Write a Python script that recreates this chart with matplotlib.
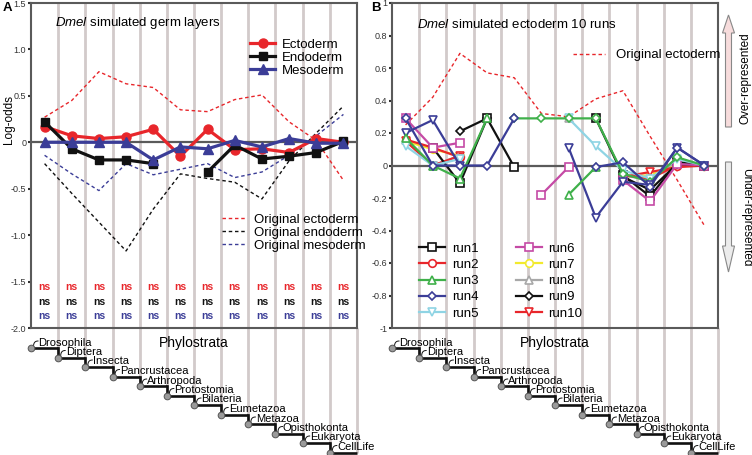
import numpy as np
import matplotlib
matplotlib.use('Agg')
import matplotlib.pyplot as plt
from matplotlib.patches import FancyArrow

plt.rcParams['font.family'] = ['Liberation Sans', 'DejaVu Sans']
plt.rcParams['axes.unicode_minus'] = False
plt.rcParams['mathtext.fontset'] = 'custom'
plt.rcParams['mathtext.it'] = 'Liberation Sans:italic'
plt.rcParams['mathtext.rm'] = 'Liberation Sans'

nan = np.nan
phylostrata = ['Drosophila', 'Diptera', 'Insecta', 'Pancrustacea', 'Arthropoda', 'Protostomia',
               'Bilateria', 'Eumetazoa', 'Metazoa', 'Opisthokonta', 'Eukaryota', 'CellLife']

# panel A: simulated germ layers
ectoderm = [0.17, 0.07, 0.04, 0.06, 0.14, -0.15, 0.14, -0.08, -0.07, -0.11, 0.04, 0.00]
endoderm = [0.22, -0.07, -0.19, -0.19, -0.23, nan, -0.32, -0.03, -0.18, -0.15, -0.11, 0.01]
mesoderm = [0.00, 0.00, 0.00, 0.00, -0.19, -0.05, -0.07, 0.02, -0.05, 0.04, -0.01, -0.01]
orig_ecto_a = [0.27, 0.45, 0.76, 0.63, 0.59, 0.35, 0.33, 0.46, 0.51, 0.22, 0.02, -0.41]
orig_endo_a = [-0.23, -0.55, -0.86, -1.17, -0.72, -0.34, -0.39, -0.43, -0.61, -0.20, 0.10, 0.39]
orig_meso_a = [-0.14, -0.34, -0.52, -0.23, -0.35, -0.29, -0.23, -0.38, -0.32, -0.14, 0.07, 0.30]

# panel B: ten simulated ectoderm runs
orig_ecto_b = [0.25, 0.42, 0.69, 0.57, 0.54, 0.32, 0.30, 0.41, 0.46, 0.18, -0.09, -0.37]
run1 = [nan, 0.11, -0.11, 0.29, -0.01, nan, nan, 0.29, -0.06, -0.19, 0.02, 0.00]
run2 = [0.16, 0.11, 0.05, nan, nan, nan, nan, nan, -0.06, -0.08, 0.00, 0.00]
run3 = [0.17, 0.00, -0.08, 0.29, nan, nan, -0.18, -0.01, nan, nan, nan, nan]
run3_b = [nan, nan, nan, nan, 0.29, 0.29, 0.29, 0.29, -0.05, -0.10, 0.05, 0.00]
run4 = [0.29, 0.00, 0.00, 0.00, 0.29, nan, nan, -0.01, 0.02, -0.13, 0.11, 0.00]
run4_b = [0.20, 0.28, 0.00, nan, nan, nan, 0.11, -0.32, -0.10, -0.12, 0.11, 0.00]
run5 = [0.12, 0.00, 0.04, nan, nan, nan, 0.29, 0.12, -0.03, -0.08, 0.04, 0.00]
run6 = [0.29, 0.11, 0.14, nan, nan, -0.18, -0.01, nan, -0.09, -0.22, 0.01, 0.00]
run7 = [0.15, 0.10, 0.06, nan, nan, nan, nan, nan, -0.07, -0.06, 0.01, 0.00]
run8 = [0.16, 0.00, 0.06, nan, nan, nan, 0.29, nan, -0.06, -0.09, 0.03, 0.00]
run9 = [nan, nan, 0.21, 0.29, nan, nan, nan, nan, -0.07, -0.15, 0.01, 0.00]
run10 = [0.15, 0.00, 0.06, nan, nan, nan, nan, nan, -0.07, -0.04, -0.01, 0.00]

RED = '#e8262b'
BLACK = '#111111'
BLUE = '#3b3d97'
GREEN = '#3fb04a'
CYAN = '#8fd4e4'
MAGENTA = '#c54aa5'
YELLOW = '#f2ea2e'
GRAY = '#a8a8a8'
GRID = '#d2caca'
SPINE = '#5a5a5a'

FW, FH = 752, 455
fig = plt.figure(figsize=(FW / 100, FH / 100), dpi=100)
TOP, BOT, W = 3, 328, 326


def px_axes(left):
    return fig.add_axes([left / FW, 1 - BOT / FH, W / FW, (BOT - TOP) / FH], zorder=2)


def setup(ax, ylim, ticks, labels):
    ax.set_xlim(0, len(phylostrata))
    ax.set_ylim(*ylim)
    ax.set_xticks([])
    ax.set_yticks(ticks)
    ax.set_yticklabels(labels)
    for s in ax.spines.values():
        s.set_color(SPINE)
        s.set_linewidth(1.5)
    ax.tick_params(axis='y', direction='out', length=2.5, width=1.5, color='#333333',
                   labelsize=6.5, pad=1, labelcolor='#333333')
    for xb in range(1, len(phylostrata)):
        ax.axvline(xb, color=GRID, lw=2.0, zorder=0)
    ax.axhline(0, color=SPINE, lw=1.6, zorder=1)


x = np.arange(len(phylostrata)) + 0.5

# ---------------- panel A
axA = px_axes(31)
setup(axA, (-2.0, 1.5), [1.5, 1.0, 0.5, 0, -0.5, -1.0, -1.5, -2.0],
      ['1.5', '1.0', '0.5', '0', '-0.5', '-1.0', '-1.5', '-2.0'])
dash = (0, (2.5, 2))
la, = axA.plot(x, orig_ecto_a, color=RED, lw=1.0, ls=dash, zorder=2)
lb, = axA.plot(x, orig_endo_a, color=BLACK, lw=1.0, ls=dash, zorder=2)
lc, = axA.plot(x, orig_meso_a, color=BLUE, lw=1.0, ls=dash, zorder=2)
h1, = axA.plot(x, ectoderm, '-o', color=RED, lw=2.3, ms=6.5, zorder=3)
h2, = axA.plot(x, endoderm, '-s', color=BLACK, lw=2.3, ms=5.5, zorder=4)
h3, = axA.plot(x, mesoderm, '-^', color=BLUE, lw=2.3, ms=6.5, zorder=5)
for yv, col in zip([-1.56, -1.72, -1.87], [RED, BLACK, BLUE]):
    for xc in x:
        axA.text(xc, yv, 'ns', color=col, ha='center', va='center', fontsize=7.5, fontweight='bold')

leg1 = axA.legend([h1, h2, h3], ['Ectoderm', 'Endoderm', 'Mesoderm'], loc='upper left',
                  bbox_to_anchor=(0.672, 0.89), frameon=False, borderpad=0, borderaxespad=0,
                  handlelength=1.9, handletextpad=0.5, labelspacing=0.05, fontsize=9.5)
axA.add_artist(leg1)
axA.legend([la, lb, lc], ['Original ectoderm', 'Original endoderm', 'Original mesoderm'],
           loc='upper left', bbox_to_anchor=(0.586, 0.352), frameon=False, borderpad=0,
           borderaxespad=0, handlelength=1.9, handletextpad=0.5, labelspacing=0.05, fontsize=9.5)
axA.text(0.074, 0.938, r'$\it{Dmel}$ simulated germ layers', transform=axA.transAxes,
         fontsize=9.5, va='center', ha='left')

# ---------------- panel B
axB = px_axes(392)
setup(axB, (-1, 1), [1, 0.8, 0.6, 0.4, 0.2, 0, -0.2, -0.4, -0.6, -0.8, -1],
      ['1', '0.8', '0.6', '0.4', '0.2', '0', '-0.2', '-0.4', '-0.6', '-0.8', '-1'])
lo, = axB.plot(x, orig_ecto_b, color=RED, lw=1.0, ls=dash, zorder=2)

runs = [('run1', run1, BLACK, 's'), ('run2', run2, RED, 'o'), ('run3', run3, GREEN, '^'),
        ('run4', run4, BLUE, 'D'), ('run5', run5, CYAN, 'v'), ('run6', run6, MAGENTA, 's'),
        ('run7', run7, YELLOW, 'o'), ('run8', run8, GRAY, '^'), ('run9', run9, BLACK, 'D'),
        ('run10', run10, RED, 'v')]
extra = [(run3_b, GREEN, 'D'), (run4_b, BLUE, 'v')]
draw_order = {'run7': 3, 'run8': 3.1, 'run10': 3.2, 'run2': 3.3, 'run9': 3.4, 'run1': 3.5,
              'run6': 3.6, 'run5': 3.7, 'run3': 3.9, 'run4': 4.0}
handles = []
for name, vals, col, mk in runs:
    ms = 4.5 if mk == 'D' else 5.5
    h, = axB.plot(x, vals, '-', marker=mk, color=col, lw=1.6, ms=ms, mfc='white', mew=1.2,
                  zorder=draw_order[name])
    handles.append(h)
for vals, col, mk in extra:
    ms = 4.5 if mk == 'D' else 5.5
    axB.plot(x, vals, '-', marker=mk, color=col, lw=1.6, ms=ms, mfc='white', mew=1.2, zorder=3.8)

leg_runs = axB.legend(handles, [r[0] for r in runs], loc='upper left', ncol=2,
                      bbox_to_anchor=(0.083, 0.263), frameon=False, borderpad=0, borderaxespad=0,
                      handlelength=2.0, handletextpad=0.5, labelspacing=0.3, columnspacing=2.8,
                      fontsize=9.5)
axB.add_artist(leg_runs)
axB.legend([lo], ['Original ectoderm'], loc='upper left', bbox_to_anchor=(0.555, 0.858),
           frameon=False, borderpad=0, borderaxespad=0, handlelength=2.4, handletextpad=0.9,
           fontsize=9.5)
axB.text(0.076, 0.935, r'$\it{Dmel}$ simulated ectoderm 10 runs', transform=axB.transAxes,
         fontsize=9.5, va='center', ha='left')

# ---------------- overlay: phylostrata staircase, arrows, labels
ov = fig.add_axes([0, 0, 1, 1], zorder=1)
ov.set_xlim(0, FW)
ov.set_ylim(FH, 0)
ov.axis('off')
ov.patch.set_alpha(0)


def to_px(ax, xv, yv):
    dx, dy = ax.transData.transform((xv, yv))
    return dx, FH - dy


n = len(phylostrata)
for ax in (axA, axB):
    bounds = [to_px(ax, b, ax.get_ylim()[0]) for b in range(n + 1)]
    ybase = bounds[0][1]
    levels = [ybase + 20 + 9.5 * k for k in range(n)]
    for k in range(1, n + 1):
        ov.plot([bounds[k][0]] * 2, [ybase, levels[min(k, n - 1)]],
                color=GRID, lw=2.0, zorder=1, solid_capstyle='butt')
    for k, name in enumerate(phylostrata):
        xk, yk = bounds[k][0], levels[k]
        xn = bounds[k + 1][0]
        ov.plot([xk, xn], [yk, yk], color=BLACK, lw=1.9, zorder=2, solid_capstyle='butt')
        if k + 1 < n:
            ov.plot([xn, xn], [yk, levels[k + 1]], color=BLACK, lw=1.9, zorder=2)
        t = np.linspace(0, 1, 8)
        hx = (1 - t) ** 2 * (xk + 2.5) + 2 * t * (1 - t) * (xk + 2.5) + t ** 2 * (xk + 7)
        hy = (1 - t) ** 2 * (yk - 1.5) + 2 * t * (1 - t) * (yk - 7) + t ** 2 * (yk - 7)
        ov.plot(hx, hy, color=BLACK, lw=0.7, zorder=3)
        ov.plot(xk, yk, 'o', ms=4.8, mfc='#9a9a9a', mec='#555555', mew=0.7, zorder=4)
        ov.text(xk + 7.5, yk - 2.5, name, fontsize=8, ha='left', va='baseline', zorder=5)
    xm = to_px(ax, n / 2, 0)[0]
    ov.text(xm, ybase + 15, 'Phylostrata', fontsize=10, ha='center', va='center')

ov.text(7, 8, 'A', fontsize=9.5, fontweight='bold', ha='center', va='center')
ov.text(376, 8, 'B', fontsize=9.5, fontweight='bold', ha='center', va='center')
ov.text(9, 120, 'Log-odds', fontsize=8.5, rotation=90, ha='center', va='center')

ov.add_patch(FancyArrow(728.5, 127, 0, -112, width=6, head_width=12, head_length=18,
                        length_includes_head=True, fc='#f7dcdc', ec='#888888', lw=0.8))
ov.add_patch(FancyArrow(728.5, 162, 0, 110, width=6, head_width=12, head_length=26,
                        length_includes_head=True, fc='#ececec', ec='#888888', lw=0.8))
ov.text(746, 78, 'Over-represented', fontsize=8.5, rotation=90, ha='center', va='center')
ov.text(746, 217, 'Under-represented', fontsize=8.5, rotation=270, ha='center', va='center')

fig.savefig('out.png', dpi=100)
